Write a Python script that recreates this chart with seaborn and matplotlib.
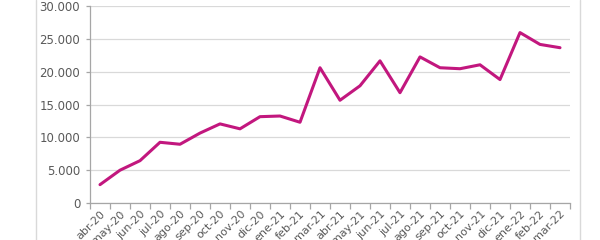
import matplotlib
matplotlib.use("Agg")
import matplotlib.pyplot as plt
import seaborn as sns
import pandas as pd
import numpy as np
from matplotlib.lines import Line2D
from matplotlib.ticker import FuncFormatter

months = ["abr-20", "may-20", "jun-20", "jul-20", "ago-20", "sep-20", "oct-20", "nov-20",
          "dic-20", "ene-21", "feb-21", "mar-21", "abr-21", "may-21", "jun-21", "jul-21",
          "ago-21", "sep-21", "oct-21", "nov-21", "dic-21", "ene-22", "feb-22", "mar-22"]
values = [2800, 5000, 6450, 9250, 8950, 10650, 12050, 11300,
          13150, 13250, 12300, 20600, 15650, 17850, 21650, 16800,
          22250, 20600, 20450, 21050, 18800, 25950, 24150, 23650]
y_ticks = [0, 5000, 10000, 15000, 20000, 25000, 30000]

sns.set_theme(style="white")
plt.rcParams['font.family'] = ['DejaVu Sans']

df = pd.DataFrame({"idx": np.arange(len(months)), "mes": months, "valor": values})

fig = plt.figure(figsize=(6, 2.4), dpi=100)
ax = fig.add_axes([0.15, 0.154, 0.80, 0.821])

sns.lineplot(data=df, x="idx", y="valor", ax=ax, color="#C2177E", linewidth=2.2, sort=False)

ax.set_xlim(-0.5, len(months) - 0.5)
ax.set_ylim(0, 30000)
ax.set_yticks(y_ticks)
ax.yaxis.set_major_formatter(FuncFormatter(lambda v, p: f"{int(v):,}".replace(",", ".")))
ax.grid(axis="y", color="#D9D9D9", linewidth=0.9)
ax.set_axisbelow(True)

ax.set_xticks(df["idx"])
ax.set_xticklabels(months, rotation=45, ha="right", rotation_mode="anchor")
ax.set_xticks(np.arange(len(months) + 1) - 0.5, minor=True)
ax.tick_params(axis="x", which="major", length=0, pad=4, labelsize=8, labelcolor="#595959")
ax.tick_params(axis="x", which="minor", length=4, color="#A6A6A6", width=0.9, bottom=True)
ax.tick_params(axis="y", length=3, color="#A6A6A6", width=0.9, left=True, labelsize=8.5,
               labelcolor="#595959", pad=4)

ax.set_xlabel("")
ax.set_ylabel("")
for s in ["top", "right"]:
    ax.spines[s].set_visible(False)
for s in ["left", "bottom"]:
    ax.spines[s].set_color("#A6A6A6")
    ax.spines[s].set_linewidth(0.9)

fig.add_artist(Line2D([36 / 600, 36 / 600], [0, 1], transform=fig.transFigure,
                      color="#D9D9D9", linewidth=1))
fig.add_artist(Line2D([580 / 600, 580 / 600], [0, 1], transform=fig.transFigure,
                      color="#D9D9D9", linewidth=1))

fig.savefig("out.png", dpi=100)
